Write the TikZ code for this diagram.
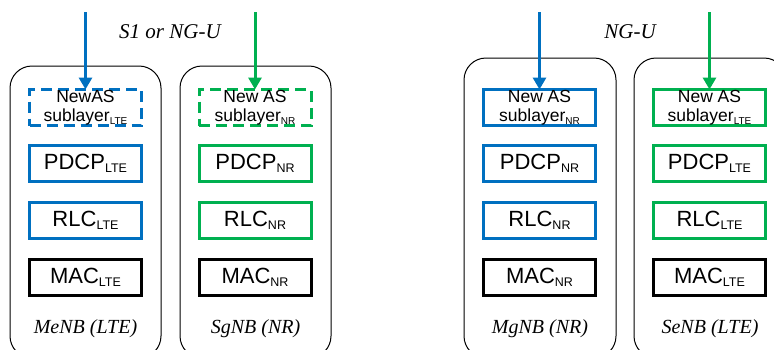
\documentclass[tikz,border=0pt]{standalone}
\usepackage{fontspec}
\setmainfont{Liberation Serif}
\newfontfamily\arialf{Liberation Sans}
\usetikzlibrary{arrows.meta}
\definecolor{cblue}{HTML}{0070C0}
\definecolor{cgreen}{HTML}{00B050}
\newcommand\lsub[2]{\raisebox{-3pt}{\fontsize{#1}{#1}\selectfont #2}}
\tikzset{
  enb/.style={draw, line width=1pt, rounded corners=22pt, minimum width=151pt, inner sep=0pt, outer sep=0pt},
  layer/.style={draw, line width=3pt, minimum width=112pt, minimum height=36pt, inner sep=0pt, outer sep=0pt,
    font=\arialf\fontsize{22}{24}\selectfont},
  nas/.style={layer, align=center, font=\arialf\fontsize{17.5}{18.5}\selectfont},
  dashedbox/.style={dash pattern=on 11pt off 6pt},
  enblabel/.style={font=\itshape\fontsize{20}{22}\selectfont, inner sep=0pt},
  iflabel/.style={font=\itshape\fontsize{21}{23}\selectfont, inner sep=0pt},
  feed/.style={line width=3pt, -{Triangle[width=13pt,length=12pt]}}
}
\begin{document}
\begin{tikzpicture}[x=1pt,y=-1pt]
\useasboundingbox (0,0) rectangle (774,349);
\clip (0,0) rectangle (774,349);
% outer eNB boxes
\node[enb, minimum height=292pt] (enb1) at (85.5,212) {};
\node[enb, minimum height=292pt] (enb2) at (255.5,212) {};
\node[enb, minimum width=152pt, minimum height=300pt] (enb3) at (540,208) {};
\node[enb, minimum width=152pt, minimum height=300pt] (enb4) at (710,208) {};
% left group
\node[nas, cblue, dashedbox, text=black] (nas1) at (85.5,107.5) {NewAS\\sublayer\lsub{10}{LTE}};
\node[layer, cblue, text=black] (pdcp1) at (85.5,163.5) {PDCP\lsub{12.5}{LTE}};
\node[layer, cblue, text=black] (rlc1) at (85.5,220.5) {RLC\lsub{12.5}{LTE}};
\node[layer, black] (mac1) at (85.5,277.5) {MAC\lsub{12.5}{LTE}};
\node[enblabel] (lab1) at (85.5,329) {MeNB (LTE)};
\node[nas, cgreen, dashedbox, text=black] (nas2) at (255,107.5) {New AS\\sublayer\lsub{10}{NR}};
\node[layer, cgreen, text=black] (pdcp2) at (255,163.5) {PDCP\lsub{12.5}{NR}};
\node[layer, cgreen, text=black] (rlc2) at (255,220.5) {RLC\lsub{12.5}{NR}};
\node[layer, black] (mac2) at (255,277.5) {MAC\lsub{12.5}{NR}};
\node[enblabel] (lab2) at (255.5,329) {SgNB (NR)};
% right group
\node[nas, cblue, text=black] (nas3) at (539.5,107.5) {New AS\\sublayer\lsub{10}{NR}};
\node[layer, cblue, text=black] (pdcp3) at (539.5,163.5) {PDCP\lsub{12.5}{NR}};
\node[layer, cblue, text=black] (rlc3) at (539.5,220.5) {RLC\lsub{12.5}{NR}};
\node[layer, black] (mac3) at (539.5,277.5) {MAC\lsub{12.5}{NR}};
\node[enblabel] (lab3) at (540,329) {MgNB (NR)};
\node[nas, cgreen, text=black] (nas4) at (709.5,107.5) {New AS\\sublayer\lsub{10}{LTE}};
\node[layer, cgreen, text=black] (pdcp4) at (709.5,163.5) {PDCP\lsub{12.5}{LTE}};
\node[layer, cgreen, text=black] (rlc4) at (709.5,220.5) {RLC\lsub{12.5}{LTE}};
\node[layer, black] (mac4) at (709.5,277.5) {MAC\lsub{12.5}{LTE}};
\node[enblabel] (lab4) at (710,329) {SeNB (LTE)};
% interface labels
\node[iflabel] (if1) at (170,32) {S1 or NG-U};
\node[iflabel] (if2) at (630,32) {NG-U};
% feeds
\coordinate (t1) at (85.5,12);
\coordinate (t2) at (255,12);
\coordinate (t3) at (539.5,12);
\coordinate (t4) at (709.5,12);
\draw[feed, cblue] (t1) -- (nas1.north);
\draw[feed, cgreen] (t2) -- (nas2.north);
\draw[feed, cblue] (t3) -- (nas3.north);
\draw[feed, cgreen] (t4) -- (nas4.north);
\end{tikzpicture}
\end{document}
